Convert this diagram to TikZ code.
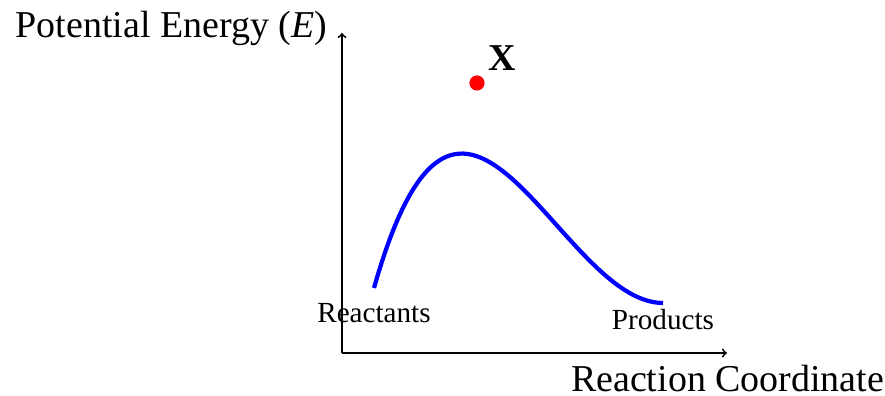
\documentclass[tikz,border=0pt]{standalone}
\usepackage{fontspec}
\setmainfont{Liberation Serif}
\usetikzlibrary{positioning}

\begin{document}
\begin{tikzpicture}[
  axis/.style={->, line width=1.3pt},
  curve/.style={draw=blue, line width=3pt},
  ax label/.style={font=\fontsize{27}{32}\selectfont, anchor=base},
  end label/.style={font=\huge, anchor=base},
  dot/.style={circle, fill=red, inner sep=0pt, minimum size=3.8mm},
]
\useasboundingbox (-8.55,-1.075) rectangle (13.575,8.825);

% axes
\coordinate (o)    at (0,0);
\coordinate (ytop) at (0,8);
\coordinate (xend) at (9.625,0);
\draw[axis] (o) -- (ytop);
\draw[axis] (o) -- (xend);

\node[ax label, anchor=base east] (ylab) at (-0.25,7.875) {Potential Energy (\textit{E})};
\node[ax label] (xlab) at (9.64,-0.975) {Reaction Coordinate};

% energy profile
\coordinate (rea) at (0.8,1.625);
\coordinate (pro) at (8.025,1.25);
\draw[curve] (rea) .. controls (3.0,9.4) and (5.4,1.25) .. (pro);

\node[end label] (rlab) at (0.8,0.75)   {Reactants};
\node[end label] (plab) at (8.025,0.575) {Products};

% transition state
\node[dot] (ts) at (3.375,6.75) {};
\node[font=\fontsize{27}{32}\selectfont\bfseries, anchor=south west,
      xshift=1.6mm, yshift=2mm] (tslab) at (ts.center) {X};

\end{tikzpicture}
\end{document}
